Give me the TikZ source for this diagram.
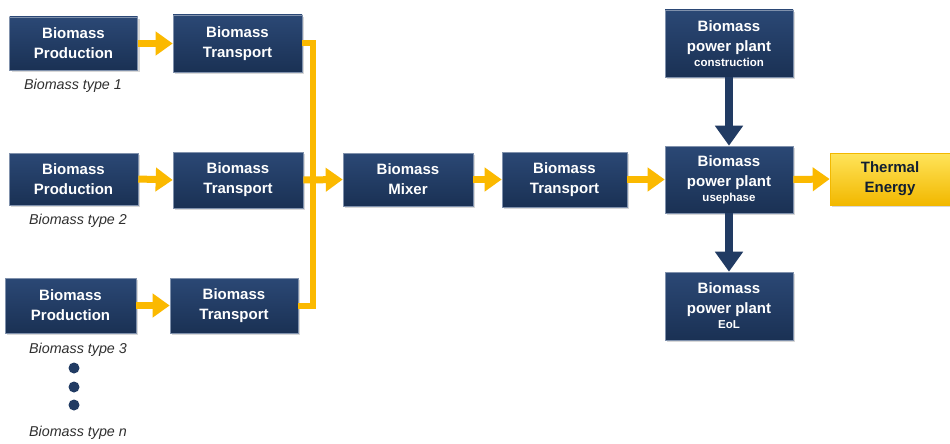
\documentclass[tikz,border=0pt]{standalone}
\usepackage{fontspec}
\setmainfont{Liberation Sans}
\usetikzlibrary{arrows.meta,shadows}
\definecolor{navy}{HTML}{213B63}
\definecolor{navytop}{HTML}{2B4875}
\definecolor{navybot}{HTML}{1A3154}
\definecolor{ayellow}{HTML}{FBB900}
\definecolor{tytop}{HTML}{FFE45A}
\definecolor{tybot}{HTML}{F2B800}
\definecolor{captxt}{HTML}{303030}
\tikzset{
  box/.style={rectangle, top color=navytop, bottom color=navybot, draw=navytop!60!white, line width=0.6pt,
    text=white, align=center, inner sep=0pt,
    font=\bfseries\fontsize{15}{20}\selectfont,
    drop shadow={opacity=0.3, shadow xshift=2pt, shadow yshift=-2pt}},
  tbox/.style={rectangle, top color=tytop, bottom color=tybot, draw=tybot, line width=0.6pt,
    text=navy!50!black, align=center, inner sep=0pt,
    font=\bfseries\fontsize{15}{20}\selectfont,
    drop shadow={opacity=0.3, shadow xshift=2pt, shadow yshift=-2pt}},
  captext/.style={text=captxt, font=\itshape\fontsize{14.3}{16}\selectfont, inner sep=0pt},
  yarrow/.style={draw=ayellow, line width=7pt, -{Triangle[width=23pt,length=17pt]}},
  yline/.style={draw=ayellow, line width=6pt, line join=miter},
  narrow/.style={draw=navy, line width=8pt, -{Triangle[width=27pt,length=20pt]}},
  dotc/.style={circle, fill=navy, minimum size=11pt, inner sep=0pt}
}
\newcommand{\smallline}[1]{{\fontsize{11.5}{14}\selectfont #1}}
\begin{document}
\begin{tikzpicture}[x=1pt,y=-1pt]
\useasboundingbox[fill=white] (0,0) rectangle (950,444);
% boxes
\node[box, minimum width=128pt, minimum height=53pt] (p1) at (73.5,43.5) {Biomass\\Production};
\node[box, minimum width=129pt, minimum height=57pt] (t1) at (237.5,43.5) {Biomass\\Transport};
\node[box, minimum width=129pt, minimum height=52pt] (p2) at (73.5,179) {Biomass\\Production};
\node[box, minimum width=130pt, minimum height=56pt] (t2) at (238,180) {Biomass\\Transport};
\node[box, minimum width=131pt, minimum height=55pt] (p3) at (70.5,305.5) {Biomass\\Production};
\node[box, minimum width=128pt, minimum height=55pt] (t3) at (234,305.5) {Biomass\\Transport};
\node[box, minimum width=130pt, minimum height=53pt] (mix) at (408,179.5) {Biomass\\Mixer};
\node[box, minimum width=125pt, minimum height=55pt] (t4) at (564.5,179.5) {Biomass\\Transport};
\node[box, minimum width=128pt, minimum height=67pt] (pc) at (729,43.5) {Biomass\\power plant\\[-5pt]\smallline{construction}};
\node[box, minimum width=128pt, minimum height=67pt] (pu) at (729,179.5) {Biomass\\power plant\\[-5pt]\smallline{usephase}};
\node[box, minimum width=128pt, minimum height=68pt] (pe) at (729,306) {Biomass\\power plant\\[-5pt]\smallline{EoL}};
\node[tbox, minimum width=120pt, minimum height=52pt] (th) at (890,179) {Thermal\\Energy};
% captions
\node[captext] (c1) at (73,86) {Biomass type 1};
\node[captext] (c2) at (78,221) {Biomass type 2};
\node[captext] (c3) at (78,350) {Biomass type 3};
\node[captext] (cn) at (78,433) {Biomass type n};
\node[dotc] (d1) at (74,368) {};
\node[dotc] (d2) at (74,387) {};
\node[dotc] (d3) at (74,405) {};
% junction
\coordinate (jx) at (313,180);
\draw[yline] (t1.east) -| (jx) |- (t3.east);
% yellow arrows
\draw[yarrow] (p1.east) -- (t1.west);
\draw[yarrow] (p2.east) -- (t2.west);
\draw[yarrow] (p3.east) -- (t3.west);
\draw[yarrow] (t2.east) -- (mix.west);
\draw[yarrow] (mix.east) -- (t4.west);
\draw[yarrow] (t4.east) -- (pu.west);
\draw[yarrow] (pu.east) -- (th.west);
% navy arrows
\draw[narrow] (pc.south) -- (pu.north);
\draw[narrow] (pu.south) -- (pe.north);
\end{tikzpicture}
\end{document}
